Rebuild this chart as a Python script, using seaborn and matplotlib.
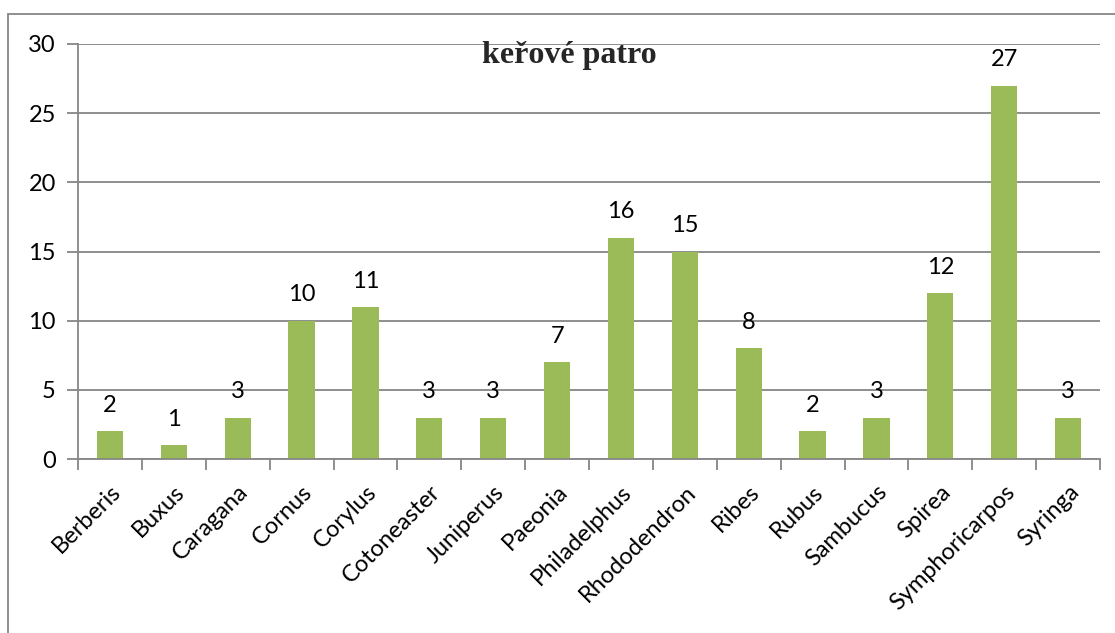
import numpy as np
import pandas as pd
import matplotlib
matplotlib.use('Agg')
import matplotlib.pyplot as plt
import seaborn as sns
from matplotlib.patches import Rectangle

sns.set_theme(style='white')
plt.rcParams['font.family'] = ['Lato', 'DejaVu Sans']

# data
genera = ['Berberis', 'Buxus', 'Caragana', 'Cornus', 'Corylus', 'Cotoneaster',
          'Juniperus', 'Paeonia', 'Philadelphus', 'Rhododendron', 'Ribes', 'Rubus',
          'Sambucus', 'Spirea', 'Symphoricarpos', 'Syringa']
counts = [2, 1, 3, 10, 11, 3, 3, 7, 16, 15, 8, 2, 3, 12, 27, 3]
title = 'keřové patro'

df = pd.DataFrame({'rod': genera, 'pocet': counts})

grid_col = '#868686'
bar_col = '#9BBB59'
fs = 17

fig = plt.figure(figsize=(11.15, 6.33), dpi=100)
ax = fig.add_axes([78 / 1115, 1 - 459 / 633, (1100 - 78) / 1115, (459 - 44) / 633])

sns.barplot(data=df, x='rod', y='pocet', color=bar_col, width=0.41,
            saturation=1, ax=ax, edgecolor='none')

ax.set_xlim(-0.5, len(genera) - 0.5)
ax.set_ylim(0, 30)
ax.set_yticks(range(0, 31, 5))
ax.yaxis.grid(True, color=grid_col, linewidth=1.3)
ax.set_axisbelow(True)
ax.set_xlabel('')
ax.set_ylabel('')

for s in ['top', 'right']:
    ax.spines[s].set_visible(False)
for s in ['left', 'bottom']:
    ax.spines[s].set_color(grid_col)
    ax.spines[s].set_linewidth(1.3)

ax.tick_params(axis='y', which='major', left=True, length=8, width=1.3,
               color=grid_col, labelsize=fs, pad=8, labelcolor='black')
ax.set_xticks(np.arange(len(genera)))
ax.set_xticklabels(genera, rotation=45, ha='right', rotation_mode='anchor',
                   fontsize=fs, color='black')
ax.tick_params(axis='x', which='major', bottom=False, pad=10)
ax.set_xticks(np.arange(-0.5, len(genera)), minor=True)
ax.tick_params(axis='x', which='minor', bottom=True, length=8, width=1.3,
               color=grid_col)

for i, v in enumerate(counts):
    ax.annotate(str(v), (i, v), xytext=(0, 11), textcoords='offset points',
                ha='center', va='bottom', fontsize=fs, color='black')

fig.text(569 / 1115, 1 - 56 / 633, title, ha='center', va='center',
         fontsize=23, fontweight='bold', family=['Liberation Serif'])

fig.patches.append(Rectangle((8 / 1115, -0.1), 1.2, 1 - 14 / 633 + 0.1,
                             transform=fig.transFigure, fill=False,
                             edgecolor=grid_col, linewidth=1.3))

fig.savefig('out.png', dpi=100, facecolor='white')
